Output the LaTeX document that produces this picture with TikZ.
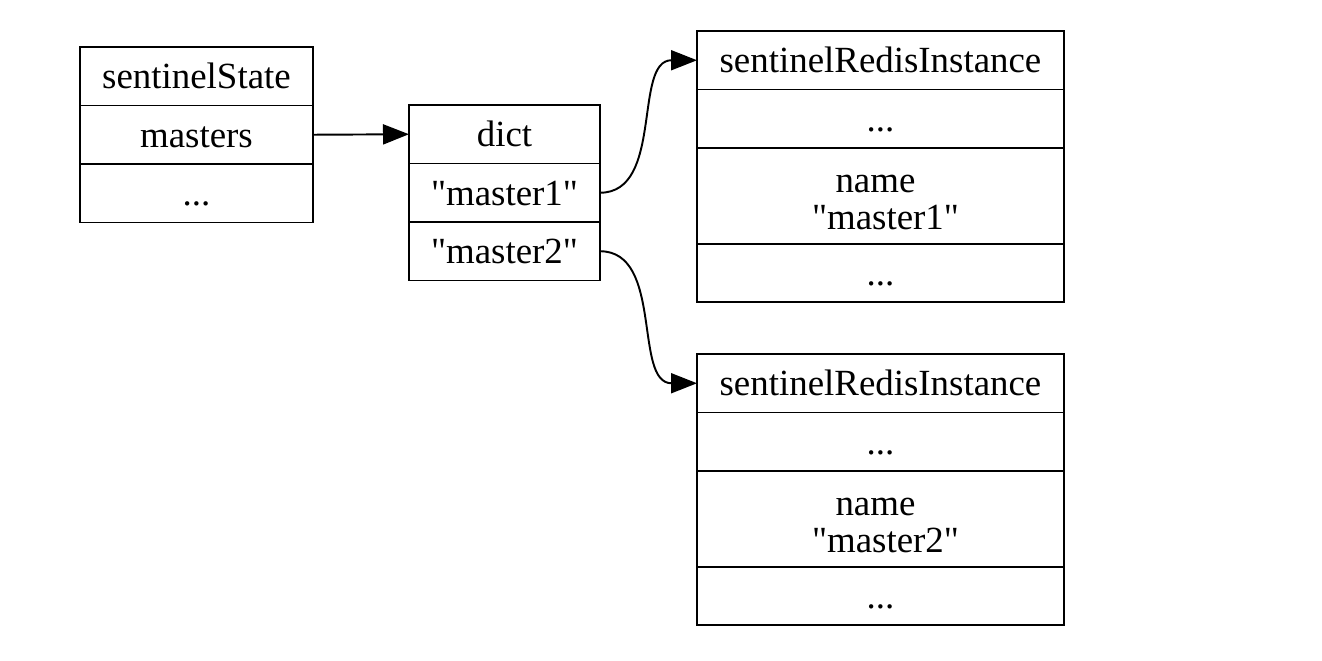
\documentclass[tikz,border=0pt]{standalone}
\usepackage{fontspec}
\setmainfont{Liberation Serif}[Ligatures=TeXOff]
\usetikzlibrary{positioning}
\usetikzlibrary{arrows.meta}

\begin{document}
\begin{tikzpicture}[->, >={Triangle[length=0.52cm,width=0.4cm]}, x=0.02cm, y=-0.02cm, line width=1.1pt, font=\fontsize{21}{21}\selectfont]
	\tikzstyle{field}=[draw=black, rectangle, outer sep=0pt, inner sep=0pt, minimum height=1.17cm, text height=18.4pt, text depth=4pt, align=center]
	\tikzstyle{state}=[field, minimum width=4.66cm]
	\tikzstyle{dict}=[field, minimum width=3.82cm]
	\tikzstyle{inst}=[field, minimum width=7.34cm]
	\tikzstyle{tall}=[inst, minimum height=1.92cm, text height=41.6pt]

	\useasboundingbox (0,0) rectangle (1322,660);

	\node[state, anchor=north west] (ss) at (80,47) {sentinelState};
	\node[state, below=0pt of ss] (masters) {masters};
	\node[state, below=0pt of masters] (ssrest) {...};

	\node[dict, anchor=north west] (dict) at (409,105) {dict};
	\node[dict, below=0pt of dict] (m1) {"master1"};
	\node[dict, below=0pt of m1] (m2) {"master2"};

	\node[inst, anchor=north west] (sri1) at (697,31) {sentinelRedisInstance};
	\node[inst, below=0pt of sri1] (sri1a) {...};
	\node[tall, below=0pt of sri1a] (sri1name) {name\hspace*{0.2cm}\\\hspace*{0.2cm}"master1"};
	\node[inst, below=0pt of sri1name] (sri1b) {...};

	\node[inst, anchor=north west] (sri2) at (697,354) {sentinelRedisInstance};
	\node[inst, below=0pt of sri2] (sri2a) {...};
	\node[tall, below=0pt of sri2a] (sri2name) {name\hspace*{0.2cm}\\\hspace*{0.2cm}"master2"};
	\node[inst, below=0pt of sri2name] (sri2b) {...};

	\draw (masters.east) -- (dict.west);
	\draw (m1.east) to[out=0, in=180] (sri1.west);
	\draw (m2.east) to[out=0, in=180] (sri2.west);
\end{tikzpicture}
\end{document}
